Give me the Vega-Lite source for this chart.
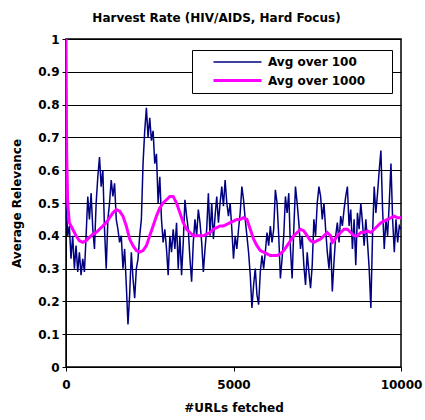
{
  "$schema": "https://vega.github.io/schema/vega-lite/v6.json",
  "width": 335,
  "height": 328,
  "autosize": "none",
  "padding": {"left": 66, "top": 39, "right": 24, "bottom": 53},
  "background": "white",
  "config": {
    "font": "DejaVu Sans",
    "view": {"stroke": "black", "strokeWidth": 1.5},
    "axis": {"labelColor": "black", "titleColor": "black", "labelFontSize": 12, "labelFontWeight": "bold", "titleFontSize": 12, "titleFontWeight": "bold", "domainColor": "black", "tickColor": "black"}
  },
  "title": {"text": "Harvest Rate (HIV/AIDS, Hard Focus)", "fontSize": 12, "fontWeight": "bold", "color": "black", "offset": 8, "anchor": "middle", "dx": -17},
  "data": {"values": [
    {"x":0,"v":0.51,"s":"Avg over 100"},{"x":50,"v":0.40,"s":"Avg over 100"},{"x":100,"v":0.43,"s":"Avg over 100"},{"x":150,"v":0.33,"s":"Avg over 100"},{"x":200,"v":0.40,"s":"Avg over 100"},{"x":250,"v":0.30,"s":"Avg over 100"},{"x":300,"v":0.37,"s":"Avg over 100"},{"x":350,"v":0.29,"s":"Avg over 100"},{"x":400,"v":0.35,"s":"Avg over 100"},{"x":450,"v":0.28,"s":"Avg over 100"},
    {"x":500,"v":0.33,"s":"Avg over 100"},{"x":550,"v":0.29,"s":"Avg over 100"},{"x":600,"v":0.40,"s":"Avg over 100"},{"x":650,"v":0.52,"s":"Avg over 100"},{"x":700,"v":0.45,"s":"Avg over 100"},{"x":750,"v":0.53,"s":"Avg over 100"},{"x":800,"v":0.42,"s":"Avg over 100"},{"x":850,"v":0.36,"s":"Avg over 100"},{"x":900,"v":0.50,"s":"Avg over 100"},{"x":950,"v":0.58,"s":"Avg over 100"},
    {"x":1000,"v":0.64,"s":"Avg over 100"},{"x":1050,"v":0.55,"s":"Avg over 100"},{"x":1100,"v":0.60,"s":"Avg over 100"},{"x":1150,"v":0.42,"s":"Avg over 100"},{"x":1200,"v":0.30,"s":"Avg over 100"},{"x":1250,"v":0.45,"s":"Avg over 100"},{"x":1300,"v":0.50,"s":"Avg over 100"},{"x":1350,"v":0.57,"s":"Avg over 100"},{"x":1400,"v":0.52,"s":"Avg over 100"},{"x":1450,"v":0.56,"s":"Avg over 100"},
    {"x":1500,"v":0.45,"s":"Avg over 100"},{"x":1550,"v":0.42,"s":"Avg over 100"},{"x":1600,"v":0.38,"s":"Avg over 100"},{"x":1650,"v":0.40,"s":"Avg over 100"},{"x":1700,"v":0.30,"s":"Avg over 100"},{"x":1750,"v":0.36,"s":"Avg over 100"},{"x":1800,"v":0.25,"s":"Avg over 100"},{"x":1850,"v":0.13,"s":"Avg over 100"},{"x":1900,"v":0.22,"s":"Avg over 100"},{"x":1950,"v":0.35,"s":"Avg over 100"},
    {"x":2000,"v":0.27,"s":"Avg over 100"},{"x":2050,"v":0.21,"s":"Avg over 100"},{"x":2100,"v":0.30,"s":"Avg over 100"},{"x":2150,"v":0.33,"s":"Avg over 100"},{"x":2200,"v":0.40,"s":"Avg over 100"},{"x":2250,"v":0.45,"s":"Avg over 100"},{"x":2300,"v":0.62,"s":"Avg over 100"},{"x":2350,"v":0.72,"s":"Avg over 100"},{"x":2400,"v":0.79,"s":"Avg over 100"},{"x":2450,"v":0.70,"s":"Avg over 100"},
    {"x":2500,"v":0.76,"s":"Avg over 100"},{"x":2550,"v":0.69,"s":"Avg over 100"},{"x":2600,"v":0.72,"s":"Avg over 100"},{"x":2650,"v":0.62,"s":"Avg over 100"},{"x":2700,"v":0.65,"s":"Avg over 100"},{"x":2750,"v":0.50,"s":"Avg over 100"},{"x":2800,"v":0.58,"s":"Avg over 100"},{"x":2850,"v":0.45,"s":"Avg over 100"},{"x":2900,"v":0.38,"s":"Avg over 100"},{"x":2950,"v":0.42,"s":"Avg over 100"},
    {"x":3000,"v":0.36,"s":"Avg over 100"},{"x":3050,"v":0.28,"s":"Avg over 100"},{"x":3100,"v":0.40,"s":"Avg over 100"},{"x":3150,"v":0.35,"s":"Avg over 100"},{"x":3200,"v":0.42,"s":"Avg over 100"},{"x":3250,"v":0.36,"s":"Avg over 100"},{"x":3300,"v":0.44,"s":"Avg over 100"},{"x":3350,"v":0.30,"s":"Avg over 100"},{"x":3400,"v":0.40,"s":"Avg over 100"},{"x":3450,"v":0.28,"s":"Avg over 100"},
    {"x":3500,"v":0.38,"s":"Avg over 100"},{"x":3550,"v":0.51,"s":"Avg over 100"},{"x":3600,"v":0.46,"s":"Avg over 100"},{"x":3650,"v":0.42,"s":"Avg over 100"},{"x":3700,"v":0.33,"s":"Avg over 100"},{"x":3750,"v":0.26,"s":"Avg over 100"},{"x":3800,"v":0.38,"s":"Avg over 100"},{"x":3850,"v":0.45,"s":"Avg over 100"},{"x":3900,"v":0.40,"s":"Avg over 100"},{"x":3950,"v":0.48,"s":"Avg over 100"},
    {"x":4000,"v":0.44,"s":"Avg over 100"},{"x":4050,"v":0.38,"s":"Avg over 100"},{"x":4100,"v":0.29,"s":"Avg over 100"},{"x":4150,"v":0.36,"s":"Avg over 100"},{"x":4200,"v":0.42,"s":"Avg over 100"},{"x":4250,"v":0.53,"s":"Avg over 100"},{"x":4300,"v":0.40,"s":"Avg over 100"},{"x":4350,"v":0.50,"s":"Avg over 100"},{"x":4400,"v":0.39,"s":"Avg over 100"},{"x":4450,"v":0.46,"s":"Avg over 100"},
    {"x":4500,"v":0.52,"s":"Avg over 100"},{"x":4550,"v":0.44,"s":"Avg over 100"},{"x":4600,"v":0.50,"s":"Avg over 100"},{"x":4650,"v":0.55,"s":"Avg over 100"},{"x":4700,"v":0.49,"s":"Avg over 100"},{"x":4750,"v":0.57,"s":"Avg over 100"},{"x":4800,"v":0.50,"s":"Avg over 100"},{"x":4850,"v":0.46,"s":"Avg over 100"},{"x":4900,"v":0.50,"s":"Avg over 100"},{"x":4950,"v":0.42,"s":"Avg over 100"},
    {"x":5000,"v":0.33,"s":"Avg over 100"},{"x":5050,"v":0.40,"s":"Avg over 100"},{"x":5100,"v":0.36,"s":"Avg over 100"},{"x":5150,"v":0.42,"s":"Avg over 100"},{"x":5200,"v":0.47,"s":"Avg over 100"},{"x":5250,"v":0.55,"s":"Avg over 100"},{"x":5300,"v":0.51,"s":"Avg over 100"},{"x":5350,"v":0.45,"s":"Avg over 100"},{"x":5400,"v":0.40,"s":"Avg over 100"},{"x":5450,"v":0.35,"s":"Avg over 100"},
    {"x":5500,"v":0.28,"s":"Avg over 100"},{"x":5550,"v":0.18,"s":"Avg over 100"},{"x":5600,"v":0.25,"s":"Avg over 100"},{"x":5650,"v":0.30,"s":"Avg over 100"},{"x":5700,"v":0.22,"s":"Avg over 100"},{"x":5750,"v":0.19,"s":"Avg over 100"},{"x":5800,"v":0.29,"s":"Avg over 100"},{"x":5850,"v":0.34,"s":"Avg over 100"},{"x":5900,"v":0.30,"s":"Avg over 100"},{"x":5950,"v":0.35,"s":"Avg over 100"},
    {"x":6000,"v":0.41,"s":"Avg over 100"},{"x":6050,"v":0.37,"s":"Avg over 100"},{"x":6100,"v":0.43,"s":"Avg over 100"},{"x":6150,"v":0.38,"s":"Avg over 100"},{"x":6200,"v":0.42,"s":"Avg over 100"},{"x":6250,"v":0.54,"s":"Avg over 100"},{"x":6300,"v":0.50,"s":"Avg over 100"},{"x":6350,"v":0.40,"s":"Avg over 100"},{"x":6400,"v":0.27,"s":"Avg over 100"},{"x":6450,"v":0.33,"s":"Avg over 100"},
    {"x":6500,"v":0.40,"s":"Avg over 100"},{"x":6550,"v":0.52,"s":"Avg over 100"},{"x":6600,"v":0.47,"s":"Avg over 100"},{"x":6650,"v":0.53,"s":"Avg over 100"},{"x":6700,"v":0.36,"s":"Avg over 100"},{"x":6750,"v":0.27,"s":"Avg over 100"},{"x":6800,"v":0.42,"s":"Avg over 100"},{"x":6850,"v":0.55,"s":"Avg over 100"},{"x":6900,"v":0.50,"s":"Avg over 100"},{"x":6950,"v":0.44,"s":"Avg over 100"},
    {"x":7000,"v":0.36,"s":"Avg over 100"},{"x":7050,"v":0.40,"s":"Avg over 100"},{"x":7100,"v":0.31,"s":"Avg over 100"},{"x":7150,"v":0.25,"s":"Avg over 100"},{"x":7200,"v":0.35,"s":"Avg over 100"},{"x":7250,"v":0.29,"s":"Avg over 100"},{"x":7300,"v":0.24,"s":"Avg over 100"},{"x":7350,"v":0.31,"s":"Avg over 100"},{"x":7400,"v":0.45,"s":"Avg over 100"},{"x":7450,"v":0.40,"s":"Avg over 100"},
    {"x":7500,"v":0.50,"s":"Avg over 100"},{"x":7550,"v":0.55,"s":"Avg over 100"},{"x":7600,"v":0.52,"s":"Avg over 100"},{"x":7650,"v":0.45,"s":"Avg over 100"},{"x":7700,"v":0.50,"s":"Avg over 100"},{"x":7750,"v":0.42,"s":"Avg over 100"},{"x":7800,"v":0.35,"s":"Avg over 100"},{"x":7850,"v":0.30,"s":"Avg over 100"},{"x":7900,"v":0.38,"s":"Avg over 100"},{"x":7950,"v":0.23,"s":"Avg over 100"},
    {"x":8000,"v":0.32,"s":"Avg over 100"},{"x":8050,"v":0.40,"s":"Avg over 100"},{"x":8100,"v":0.44,"s":"Avg over 100"},{"x":8150,"v":0.38,"s":"Avg over 100"},{"x":8200,"v":0.46,"s":"Avg over 100"},{"x":8250,"v":0.43,"s":"Avg over 100"},{"x":8300,"v":0.48,"s":"Avg over 100"},{"x":8350,"v":0.52,"s":"Avg over 100"},{"x":8400,"v":0.55,"s":"Avg over 100"},{"x":8450,"v":0.43,"s":"Avg over 100"},
    {"x":8500,"v":0.48,"s":"Avg over 100"},{"x":8550,"v":0.36,"s":"Avg over 100"},{"x":8600,"v":0.45,"s":"Avg over 100"},{"x":8650,"v":0.31,"s":"Avg over 100"},{"x":8700,"v":0.47,"s":"Avg over 100"},{"x":8750,"v":0.42,"s":"Avg over 100"},{"x":8800,"v":0.50,"s":"Avg over 100"},{"x":8850,"v":0.44,"s":"Avg over 100"},{"x":8900,"v":0.37,"s":"Avg over 100"},{"x":8950,"v":0.45,"s":"Avg over 100"},
    {"x":9000,"v":0.38,"s":"Avg over 100"},{"x":9050,"v":0.30,"s":"Avg over 100"},{"x":9100,"v":0.18,"s":"Avg over 100"},{"x":9150,"v":0.40,"s":"Avg over 100"},{"x":9200,"v":0.55,"s":"Avg over 100"},{"x":9250,"v":0.47,"s":"Avg over 100"},{"x":9300,"v":0.53,"s":"Avg over 100"},{"x":9350,"v":0.60,"s":"Avg over 100"},{"x":9400,"v":0.66,"s":"Avg over 100"},{"x":9450,"v":0.48,"s":"Avg over 100"},
    {"x":9500,"v":0.36,"s":"Avg over 100"},{"x":9550,"v":0.45,"s":"Avg over 100"},{"x":9600,"v":0.40,"s":"Avg over 100"},{"x":9650,"v":0.50,"s":"Avg over 100"},{"x":9700,"v":0.62,"s":"Avg over 100"},{"x":9750,"v":0.45,"s":"Avg over 100"},{"x":9800,"v":0.35,"s":"Avg over 100"},{"x":9850,"v":0.45,"s":"Avg over 100"},{"x":9900,"v":0.38,"s":"Avg over 100"},{"x":9950,"v":0.43,"s":"Avg over 100"},{"x":10000,"v":0.42,"s":"Avg over 100"},
    {"x":0,"v":1.0,"s":"Avg over 1000"},{"x":20,"v":0.65,"s":"Avg over 1000"},{"x":50,"v":0.50,"s":"Avg over 1000"},{"x":100,"v":0.44,"s":"Avg over 1000"},{"x":200,"v":0.42,"s":"Avg over 1000"},{"x":300,"v":0.40,"s":"Avg over 1000"},{"x":400,"v":0.385,"s":"Avg over 1000"},{"x":500,"v":0.38,"s":"Avg over 1000"},{"x":600,"v":0.385,"s":"Avg over 1000"},{"x":700,"v":0.395,"s":"Avg over 1000"},
    {"x":800,"v":0.405,"s":"Avg over 1000"},{"x":900,"v":0.41,"s":"Avg over 1000"},{"x":1000,"v":0.42,"s":"Avg over 1000"},{"x":1100,"v":0.43,"s":"Avg over 1000"},{"x":1200,"v":0.44,"s":"Avg over 1000"},{"x":1300,"v":0.455,"s":"Avg over 1000"},{"x":1400,"v":0.47,"s":"Avg over 1000"},{"x":1500,"v":0.48,"s":"Avg over 1000"},{"x":1600,"v":0.475,"s":"Avg over 1000"},{"x":1700,"v":0.46,"s":"Avg over 1000"},
    {"x":1800,"v":0.43,"s":"Avg over 1000"},{"x":1900,"v":0.39,"s":"Avg over 1000"},{"x":2000,"v":0.37,"s":"Avg over 1000"},{"x":2100,"v":0.355,"s":"Avg over 1000"},{"x":2200,"v":0.35,"s":"Avg over 1000"},{"x":2300,"v":0.355,"s":"Avg over 1000"},{"x":2400,"v":0.37,"s":"Avg over 1000"},{"x":2500,"v":0.40,"s":"Avg over 1000"},{"x":2600,"v":0.43,"s":"Avg over 1000"},{"x":2700,"v":0.46,"s":"Avg over 1000"},
    {"x":2800,"v":0.485,"s":"Avg over 1000"},{"x":2900,"v":0.50,"s":"Avg over 1000"},{"x":3000,"v":0.51,"s":"Avg over 1000"},{"x":3100,"v":0.52,"s":"Avg over 1000"},{"x":3200,"v":0.52,"s":"Avg over 1000"},{"x":3300,"v":0.50,"s":"Avg over 1000"},{"x":3400,"v":0.47,"s":"Avg over 1000"},{"x":3500,"v":0.44,"s":"Avg over 1000"},{"x":3600,"v":0.42,"s":"Avg over 1000"},{"x":3700,"v":0.41,"s":"Avg over 1000"},
    {"x":3800,"v":0.40,"s":"Avg over 1000"},{"x":3900,"v":0.40,"s":"Avg over 1000"},{"x":4000,"v":0.40,"s":"Avg over 1000"},{"x":4100,"v":0.40,"s":"Avg over 1000"},{"x":4200,"v":0.405,"s":"Avg over 1000"},{"x":4300,"v":0.41,"s":"Avg over 1000"},{"x":4400,"v":0.42,"s":"Avg over 1000"},{"x":4500,"v":0.425,"s":"Avg over 1000"},{"x":4600,"v":0.43,"s":"Avg over 1000"},{"x":4700,"v":0.43,"s":"Avg over 1000"},
    {"x":4800,"v":0.435,"s":"Avg over 1000"},{"x":4900,"v":0.44,"s":"Avg over 1000"},{"x":5000,"v":0.445,"s":"Avg over 1000"},{"x":5100,"v":0.45,"s":"Avg over 1000"},{"x":5200,"v":0.45,"s":"Avg over 1000"},{"x":5300,"v":0.455,"s":"Avg over 1000"},{"x":5400,"v":0.45,"s":"Avg over 1000"},{"x":5500,"v":0.42,"s":"Avg over 1000"},{"x":5600,"v":0.39,"s":"Avg over 1000"},{"x":5700,"v":0.37,"s":"Avg over 1000"},
    {"x":5800,"v":0.355,"s":"Avg over 1000"},{"x":5900,"v":0.35,"s":"Avg over 1000"},{"x":6000,"v":0.345,"s":"Avg over 1000"},{"x":6100,"v":0.34,"s":"Avg over 1000"},{"x":6200,"v":0.34,"s":"Avg over 1000"},{"x":6300,"v":0.34,"s":"Avg over 1000"},{"x":6400,"v":0.345,"s":"Avg over 1000"},{"x":6500,"v":0.355,"s":"Avg over 1000"},{"x":6600,"v":0.37,"s":"Avg over 1000"},{"x":6700,"v":0.385,"s":"Avg over 1000"},
    {"x":6800,"v":0.40,"s":"Avg over 1000"},{"x":6900,"v":0.41,"s":"Avg over 1000"},{"x":7000,"v":0.42,"s":"Avg over 1000"},{"x":7100,"v":0.415,"s":"Avg over 1000"},{"x":7200,"v":0.40,"s":"Avg over 1000"},{"x":7300,"v":0.385,"s":"Avg over 1000"},{"x":7400,"v":0.38,"s":"Avg over 1000"},{"x":7500,"v":0.385,"s":"Avg over 1000"},{"x":7600,"v":0.39,"s":"Avg over 1000"},{"x":7700,"v":0.40,"s":"Avg over 1000"},
    {"x":7800,"v":0.41,"s":"Avg over 1000"},{"x":7900,"v":0.40,"s":"Avg over 1000"},{"x":7950,"v":0.38,"s":"Avg over 1000"},{"x":8000,"v":0.385,"s":"Avg over 1000"},{"x":8100,"v":0.40,"s":"Avg over 1000"},{"x":8200,"v":0.41,"s":"Avg over 1000"},{"x":8300,"v":0.42,"s":"Avg over 1000"},{"x":8400,"v":0.42,"s":"Avg over 1000"},{"x":8500,"v":0.41,"s":"Avg over 1000"},{"x":8600,"v":0.40,"s":"Avg over 1000"},
    {"x":8700,"v":0.40,"s":"Avg over 1000"},{"x":8800,"v":0.41,"s":"Avg over 1000"},{"x":8900,"v":0.41,"s":"Avg over 1000"},{"x":9000,"v":0.415,"s":"Avg over 1000"},{"x":9100,"v":0.41,"s":"Avg over 1000"},{"x":9200,"v":0.42,"s":"Avg over 1000"},{"x":9300,"v":0.43,"s":"Avg over 1000"},{"x":9400,"v":0.44,"s":"Avg over 1000"},{"x":9500,"v":0.445,"s":"Avg over 1000"},{"x":9600,"v":0.45,"s":"Avg over 1000"},
    {"x":9700,"v":0.455,"s":"Avg over 1000"},{"x":9800,"v":0.46,"s":"Avg over 1000"},{"x":9900,"v":0.455,"s":"Avg over 1000"},{"x":10000,"v":0.455,"s":"Avg over 1000"}
  ]},
  "mark": {"type": "line", "clip": true},
  "encoding": {
    "x": {"field": "x", "type": "quantitative", "scale": {"domain": [0, 10000], "nice": false}, "title": "#URLs fetched",
      "axis": {"values": [0, 5000, 10000], "format": "d", "grid": false, "tickSize": 4, "labelPadding": 8, "titlePadding": 12, "labelFlush": false}},
    "y": {"field": "v", "type": "quantitative", "scale": {"domain": [0, 1], "nice": false}, "title": "Average Relevance",
      "axis": {"values": [0, 0.1, 0.2, 0.3, 0.4, 0.5, 0.6, 0.7, 0.8, 0.9, 1], "format": "~g", "grid": true, "gridColor": "black", "gridOpacity": 1, "gridWidth": 1, "tickSize": 4, "labelPadding": 3, "titlePadding": 14}},
    "color": {"field": "s", "type": "nominal", "scale": {"domain": ["Avg over 100", "Avg over 1000"], "range": ["#000080", "#FF00FF"]},
      "legend": {"title": null, "orient": "none", "legendX": 126, "legendY": 11, "direction": "vertical", "strokeColor": "black", "fillColor": "white", "padding": 6, "symbolType": "M-1,0M1.8,0H11.4M35,0", "symbolSize": 100, "labelFontSize": 12, "labelFontWeight": "bold", "labelColor": "black", "labelOffset": 57, "rowPadding": 6}},
    "strokeWidth": {"field": "s", "type": "nominal", "scale": {"domain": ["Avg over 100", "Avg over 1000"], "range": [1.5, 3]},
      "legend": {"title": null, "orient": "none", "legendX": 126, "legendY": 11, "direction": "vertical", "strokeColor": "black", "fillColor": "white", "padding": 6, "symbolType": "M-1,0M1.8,0H11.4M35,0", "symbolSize": 100, "labelFontSize": 12, "labelFontWeight": "bold", "labelColor": "black", "labelOffset": 57, "rowPadding": 6}}
  }
}
